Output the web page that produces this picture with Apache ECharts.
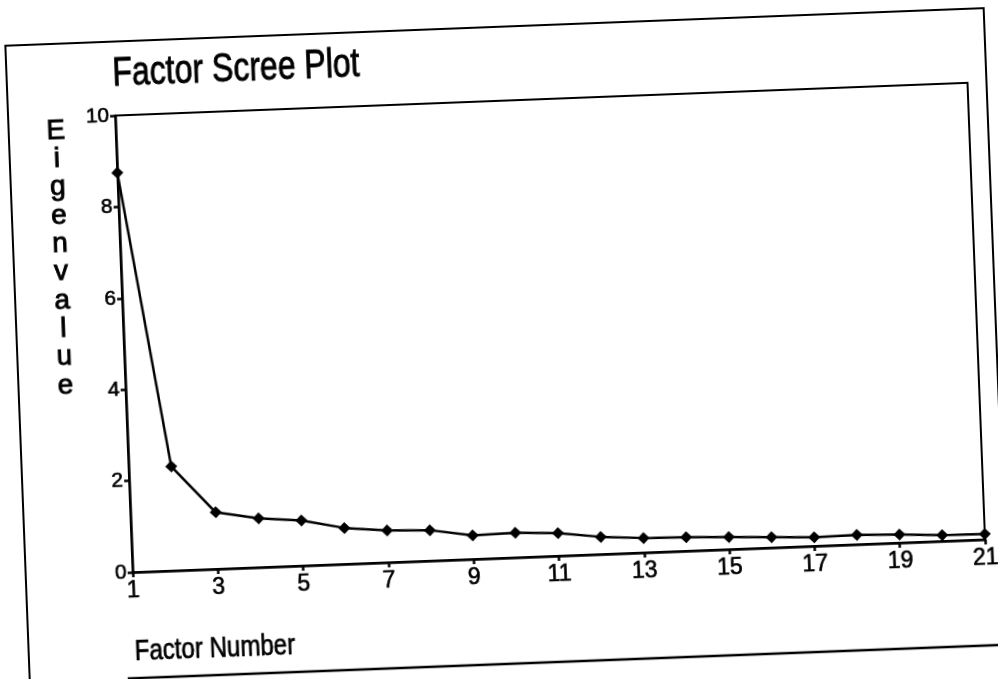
<!DOCTYPE html>
<html>
<head>
<meta charset="utf-8">
<script src="https://cdn.jsdelivr.net/npm/echarts@6/dist/echarts.min.js"></script>
<style>
  html, body { margin: 0; padding: 0; background: #fff; overflow: hidden; }
  #chart { width: 998px; height: 679px; transform: rotate(-2.2deg); transform-origin: 50% 50%; }
</style>
</head>
<body>
<div id="chart"></div>
<script>
const factors = ['1','2','3','4','5','6','7','8','9','10','11','12','13','14','15','16','17','18','19','20','21'];
const eigenvalues = [8.75, 2.28, 1.24, 1.07, 0.99, 0.79, 0.7, 0.67, 0.52, 0.54, 0.5, 0.38, 0.32, 0.3, 0.27, 0.23, 0.19, 0.21, 0.18, 0.13, 0.12];
const yTicks = [0, 2, 4, 6, 8, 10];
const titleText = 'Factor Scree Plot';
const yTitle = 'Eigenvalue';
const xTitle = 'Factor Number';

const FONT = "'Liberation Sans', Arial, sans-serif";
const chart = echarts.init(document.getElementById('chart'), null, { renderer: 'canvas' });

const option = {
  backgroundColor: '#ffffff',
  animation: false,
  grid: {
    left: 124, right: 21, top: 101, bottom: 121,
    show: true, borderColor: '#000', borderWidth: 2, backgroundColor: 'transparent'
  },
  xAxis: {
    type: 'category',
    data: factors,
    boundaryGap: false,
    axisLine: { lineStyle: { color: '#000', width: 2.5 } },
    axisTick: { show: true, interval: 1, length: 5, lineStyle: { color: '#000', width: 2.5 } },
    axisLabel: {
      interval: 1, color: '#000', fontFamily: FONT, fontSize: 23, margin: 7,
      textBorderColor: '#000', textBorderWidth: 0.6
    },
    splitLine: { show: false }
  },
  yAxis: {
    type: 'value',
    min: 0, max: 10, interval: 2,
    axisLine: { show: true, lineStyle: { color: '#000', width: 2.5 } },
    axisTick: { show: true, length: 5, lineStyle: { color: '#000', width: 2.5 } },
    axisLabel: {
      color: '#000', fontFamily: FONT, fontSize: 21, margin: 6,
      textBorderColor: '#000', textBorderWidth: 0.6,
      formatter: function (v) { return yTicks.indexOf(v) >= 0 ? String(v) : ''; }
    },
    splitLine: { show: false }
  },
  series: [{
    type: 'line',
    data: eigenvalues,
    symbol: 'diamond',
    symbolSize: 12,
    showAllSymbol: true,
    lineStyle: { color: '#000', width: 2.5 },
    itemStyle: { color: '#000' }
  }],
  graphic: [
    {
      type: 'rect',
      shape: { x: 17, y: 27, width: 979, height: 720 },
      style: { fill: 'none', stroke: '#000', lineWidth: 2 },
      silent: true
    },
    {
      type: 'line',
      shape: { x1: 115, y1: 664, x2: 1010, y2: 664 },
      style: { stroke: '#000', lineWidth: 2.5 },
      silent: true
    },
    {
      type: 'text',
      x: 123, y: 40,
      scaleX: 0.8,
      style: {
        text: titleText, fontFamily: FONT, fontSize: 40,
        fill: '#000', stroke: '#000', lineWidth: 0.9,
        verticalAlign: 'top', align: 'left'
      }
    },
    {
      type: 'text',
      x: 64, y: 100,
      style: {
        text: yTitle.split('').join('\n'),
        fontFamily: FONT, fontSize: 28, lineHeight: 28.3,
        fill: '#000', stroke: '#000', lineWidth: 0.9,
        align: 'center', verticalAlign: 'top'
      }
    },
    {
      type: 'text',
      x: 123, y: 623,
      scaleX: 0.83,
      style: {
        text: xTitle, fontFamily: FONT, fontSize: 29,
        fill: '#000', stroke: '#000', lineWidth: 0.7,
        verticalAlign: 'top', align: 'left'
      }
    }
  ]
};
chart.setOption(option);
</script>
</body>
</html>
